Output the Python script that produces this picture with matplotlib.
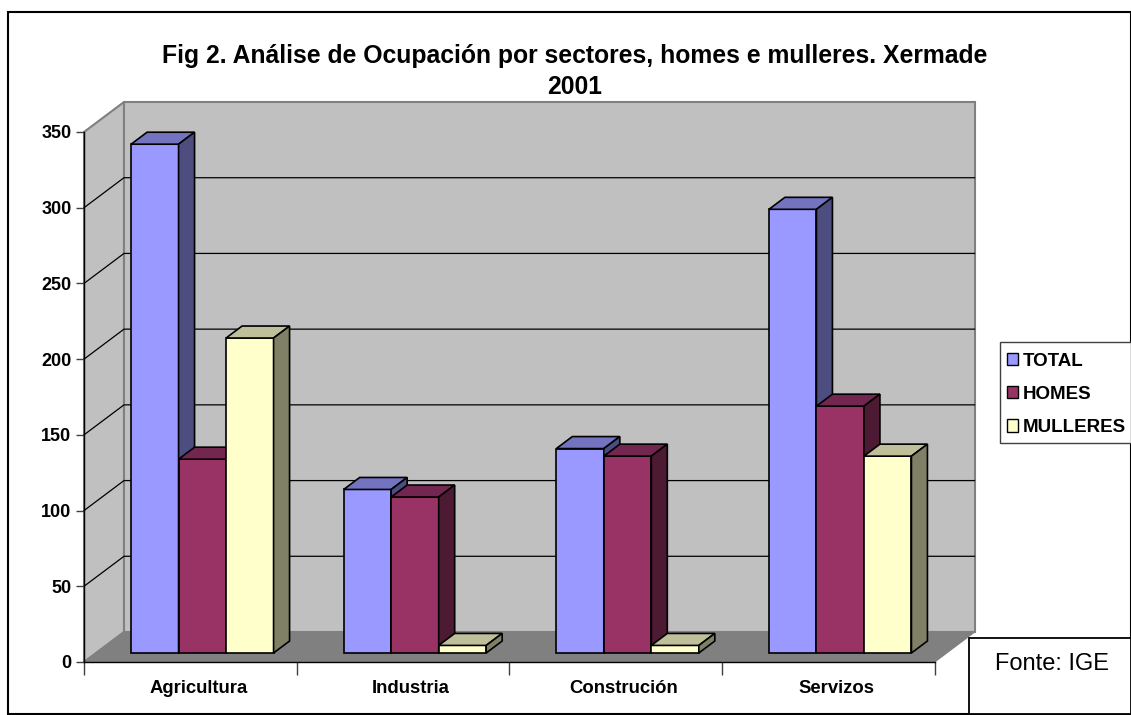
import numpy as np
import matplotlib
matplotlib.use('Agg')
import matplotlib.pyplot as plt
from matplotlib.patches import Patch, Polygon, Rectangle

plt.rcParams['font.family'] = ['Liberation Sans', 'DejaVu Sans']

# data
sectors = ['Agricultura', 'Industria', 'Construción', 'Servizos']
total = [336, 108, 135, 293]
homes = [128, 103, 130, 163]
mulleres = [208, 5, 5, 130]
series_names = ['TOTAL', 'HOMES', 'MULLERES']
yticks = [0, 50, 100, 150, 200, 250, 300, 350]

# front, top, side colours of each series
colors = [('#9999FF', '#7373BF', '#4D4D80'),
          ('#993366', '#732650', '#4D1A33'),
          ('#FFFFCC', '#BFBF99', '#808066')]

W, H = 1131, 715
fig = plt.figure(figsize=(W / 100, H / 100), dpi=100, facecolor='white')

# pixel layer for frame, box and text boxes
bg = fig.add_axes([0, 0, 1, 1], zorder=0)
bg.set_xlim(0, W)
bg.set_ylim(H, 0)
bg.axis('off')

# front plane of the chart: x 84-934, y 662-132
left, right, bottom, top = 84, 934.5, 662, 132
ax = fig.add_axes([left / W, 1 - bottom / H, (right - left) / W, (bottom - top) / H],
                  zorder=1)
ax.set_xlim(0, len(sectors))
ax.set_ylim(0, 350)
ax.patch.set_visible(False)

# outer frame
bg.add_patch(Rectangle((7.5, 11.5), 1123, 702.5, fc='white', ec='black', lw=1.5))

# box depth in pixels
dx, dy = 40, 30
bg.add_patch(Polygon([(left, bottom), (left + dx, bottom - dy), (left + dx, top - dy), (left, top)],
                     fc='#C0C0C0', ec='#808080', lw=1.5))
bg.add_patch(Polygon([(left + dx, bottom - dy), (right + dx, bottom - dy), (right + dx, top - dy),
                      (left + dx, top - dy)], fc='#C0C0C0', ec='#808080', lw=1.5))
bg.add_patch(Polygon([(left, bottom), (right, bottom), (right + dx, bottom - dy), (left + dx, bottom - dy)],
                     fc='#808080', ec='#808080', lw=1))

# gridlines on walls
px_per_unit = (bottom - top) / 350
for v in yticks[1:-1]:
    y = bottom - v * px_per_unit
    bg.plot([left, left + dx, right + dx], [y, y - dy, y - dy], color='black', lw=0.9)

# bars
cat_px = (right - left) / len(sectors)
bar_w = 47.5 / cat_px
depth_x = 16 / cat_px
depth_y = 12 / px_per_unit
off_x = 12 / cat_px
off_y = 9 / px_per_unit


def draw_bar(x, v, cols):
    x0 = x + off_x
    x1 = x0 + bar_w
    y0 = off_y
    y1 = off_y + v
    ax.add_patch(Polygon([(x0, y0), (x1, y0), (x1, y1), (x0, y1)], fc=cols[0], ec='black', lw=1.2))
    ax.add_patch(Polygon([(x0, y1), (x1, y1), (x1 + depth_x, y1 + depth_y), (x0 + depth_x, y1 + depth_y)],
                         fc=cols[1], ec='black', lw=1.2, clip_on=False))
    ax.add_patch(Polygon([(x1, y0), (x1 + depth_x, y0 + depth_y), (x1 + depth_x, y1 + depth_y), (x1, y1)],
                         fc=cols[2], ec='black', lw=1.2, clip_on=False))


for i in range(len(sectors)):
    for j, vals in enumerate([total, homes, mulleres]):
        draw_bar(i + 0.5 - 1.5 * bar_w + j * bar_w, vals[i], colors[j])

# axes
for s in ['top', 'right']:
    ax.spines[s].set_visible(False)
for s in ['left', 'bottom']:
    ax.spines[s].set_color('black')
    ax.spines[s].set_linewidth(1)
ax.set_yticks(yticks)
ax.set_yticklabels([str(v) for v in yticks], fontsize=13, fontweight='bold')
ax.set_xticks(np.arange(len(sectors) + 1))
ax.set_xticklabels([])
# labels sit a bit right of the category centre in the original
ax.set_xticks(np.arange(len(sectors)) + 0.5 + 8 / cat_px, minor=True)
ax.set_xticklabels(sectors, minor=True, fontsize=13.3, fontweight='bold')
ax.tick_params(axis='y', length=6, width=1, color='#404040', pad=3)
ax.tick_params(axis='x', which='major', length=9, width=1, color='#404040')
ax.tick_params(axis='x', which='minor', length=0, pad=13)

# title
fig.text(574.5 / W, 1 - 63 / H, 'Fig 2. Análise de Ocupación por sectores, homes e mulleres. Xermade',
         ha='center', va='baseline', fontsize=17.8, fontweight='bold')
fig.text(574.5 / W, 1 - 94 / H, '2001', ha='center', va='baseline', fontsize=17.8, fontweight='bold')

# legend, box drawn apart so the padding can differ from the legend's own
bg.add_patch(Rectangle((1000, 342), 131, 101, fc='white', ec='#404040', lw=1, zorder=5))
handles = [Patch(fc=c[0], ec='black', lw=1) for c in colors]
leg = fig.legend(handles, series_names, loc='upper left', bbox_to_anchor=(999 / W, 1 - 345 / H),
                 prop={'size': 13.5, 'weight': 'bold'}, frameon=False,
                 handlelength=0.63, handleheight=0.63,
                 handletextpad=0.26, labelspacing=0.87, borderpad=0.4, borderaxespad=0)

# source box
bg.add_patch(Rectangle((969, 638), 162, 76, fc='white', ec='black', lw=1.3, zorder=5))
bg.text(995, 664, 'Fonte: IGE', fontsize=17, va='center', ha='left', zorder=6)

fig.savefig('out.png', dpi=100)
